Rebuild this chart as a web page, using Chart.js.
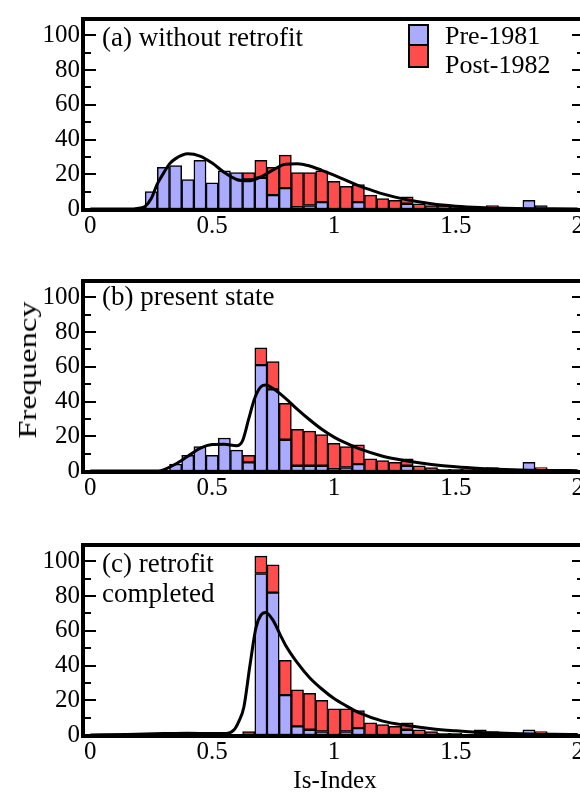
<!DOCTYPE html>
<html>
<head>
<meta charset="utf-8">
<script src="https://cdn.jsdelivr.net/npm/chart.js@4.4.1/dist/chart.umd.min.js"></script>
<style>
  html, body { margin: 0; padding: 0; background: #fff; overflow: hidden; width: 580px; height: 796px; }
  canvas { position: absolute; left: 0; }
  .lbl { position: absolute; font-family: 'Liberation Serif', 'Times New Roman', serif; font-size: 26px; line-height: 30px; color: #000; white-space: nowrap; }
  .sw { position: absolute; left: 408px; width: 17px; border: 2px solid #000; }
</style>
</head>
<body>
<canvas id="panelA" width="600" height="240" style="top:0px"></canvas>
<canvas id="panelB" width="600" height="240" style="top:262px"></canvas>
<canvas id="panelC" width="600" height="240" style="top:526px"></canvas>

<div class="lbl" style="left:102px;top:22px;font-size:27px">(a) without retrofit</div>
<div class="sw" style="top:24px;height:18px;background:rgb(170,170,255)"></div>
<div class="sw" style="top:44px;height:20px;background:rgb(255,77,77)"></div>
<div class="lbl" style="left:445px;top:21px">Pre-1981</div>
<div class="lbl" style="left:445px;top:50px">Post-1982</div>
<div class="lbl" style="left:102px;top:281px;font-size:27px">(b) present state</div>
<div class="lbl" style="left:102px;top:548px;font-size:27px">(c) retrofit<br>completed</div>
<div class="lbl" style="left:28px;top:370px;transform:translate(-50%,-50%) rotate(-90deg) scaleX(1.3);font-size:25px">Frequency</div>
<div class="lbl" style="left:335px;top:780px;transform:translate(-50%,-50%);font-size:25px">Is-Index</div>

<script>
const BLUE = 'rgb(170, 170, 255)';
const RED = 'rgb(255, 77, 77)';
const FONT = "'Liberation Serif', 'Times New Roman', serif";

// bin centres (Is-Index), width 0.05
const bins = [0.25, 0.30, 0.35, 0.40, 0.45, 0.50, 0.55, 0.60, 0.65, 0.70, 0.75, 0.80, 0.85, 0.90, 0.95, 1.00, 1.05,
  1.10, 1.15, 1.20, 1.25, 1.30, 1.35, 1.40, 1.45, 1.50, 1.55, 1.60, 1.65, 1.70, 1.75, 1.80, 1.85];

// (a) without retrofit
const preA  = [10, 24, 25, 17, 28, 15, 22, 21, 17, 18, 8, 12, 1, 2, 4, 0, 0, 4, 0, 0, 0, 3, 0, 0, 0, 0, 0, 0, 1, 0, 0, 5, 2];
const postA = [0, 0, 0, 0, 0, 0, 0, 0, 4, 10, 16, 19, 20, 19, 18, 16, 13, 10, 8, 6, 5, 4, 3, 2, 2, 1, 1, 1, 1, 0, 0, 0, 0];
// (b) present state
const preB  = [0, 0, 4, 9, 14, 9, 19, 12, 5, 61, 47, 18, 3, 3, 3, 1, 2, 4, 0, 0, 0, 3, 0, 0, 0, 0, 0, 0, 1, 0, 0, 5, 1];
const postB = [0, 0, 0, 0, 0, 0, 0, 0, 4, 10, 16, 21, 21, 20, 18, 15, 12, 11, 7, 6, 5, 4, 3, 2, 1, 1, 1, 1, 1, 0, 0, 0, 1];
// (c) retrofit completed
const preC  = [0, 0, 0, 0, 0, 0, 0, 0, 0, 93, 82, 23, 5, 3, 2, 0, 2, 4, 0, 0, 0, 3, 0, 0, 0, 0, 0, 1, 1, 0, 0, 3, 1];
const postC = [0, 0, 0, 0, 0, 0, 0, 0, 2, 10, 16, 20, 21, 21, 18, 15, 13, 10, 7, 6, 5, 4, 3, 2, 1, 1, 0, 2, 1, 0, 0, 0, 1];

// fitted distribution curves
const fitXA = [0, 0.15, 0.2, 0.225, 0.25, 0.275, 0.3, 0.325, 0.35, 0.4, 0.45, 0.5, 0.55, 0.6, 0.65, 0.7, 0.75, 0.8, 0.85,
  0.9, 0.95, 1.0, 1.05, 1.1, 1.15, 1.2, 1.3, 1.4, 1.5, 1.6, 1.7, 1.8, 1.9, 2.0];
const fitYA = [0, 0, 0.5, 1.5, 6, 14.5, 20.5, 26, 29, 31.8, 30.5, 26.5, 21, 17, 16.2, 18.5, 22.5, 25.8, 26.1,
  24.8, 22.3, 19.5, 16.5, 13.5, 11, 8.7, 5.3, 3, 1.6, 0.8, 0.4, 0.2, 0.1, 0];
const fitXB = [0, 0.28, 0.3, 0.35, 0.4, 0.45, 0.5, 0.55, 0.6, 0.625, 0.65, 0.675, 0.7, 0.72, 0.75, 0.8, 0.85, 0.9, 0.95,
  1.0, 1.05, 1.1, 1.2, 1.3, 1.4, 1.5, 1.6, 1.7, 1.8, 1.9, 2.0];
const fitYB = [0, 0, 0.6, 4, 8.5, 13, 15.2, 15.4, 14.5, 17.5, 30, 42, 48.5, 49.5, 47.5, 42, 35.5, 29.5, 24,
  19.5, 16, 13, 8.5, 5.8, 3.8, 2.4, 1.5, 0.9, 0.5, 0.3, 0.2];
const fitXC = [0, 0.15, 0.3, 0.4, 0.5, 0.56, 0.59, 0.61, 0.63, 0.655, 0.68, 0.7, 0.72, 0.75, 0.78, 0.8, 0.85, 0.9, 0.95,
  1.0, 1.05, 1.1, 1.2, 1.3, 1.4, 1.5, 1.6, 1.7, 1.8, 1.9, 2.0];
const fitYC = [0, 0.3, 0.8, 1, 0.8, 0.9, 3, 8, 16, 40, 62, 69, 70.6, 66, 57.5, 52, 41.5, 33, 26.5,
  21, 16.8, 13, 8, 5.5, 3.6, 2.4, 1.5, 1, 0.6, 0.4, 0.3];

const xTicks = [0, 0.5, 1, 1.5, 2];
const yTicks = [0, 20, 40, 60, 80, 100];
const yMinor = [10, 20, 30, 40, 50, 60, 70, 80, 90, 100];

// frame + inward ticks on left and right axes
const frameTicks = {
  id: 'frameTicks',
  afterDraw(chart) {
    const ctx = chart.ctx;
    const a = chart.chartArea;
    const y = chart.scales.y;
    const L = Math.round(a.left), R = Math.round(a.right);
    const T = Math.round(a.top), B = Math.round(a.bottom);
    ctx.save();
    ctx.fillStyle = '#000';
    yMinor.forEach(v => {
      const py = Math.round(y.getPixelForValue(v));
      const len = v % 20 === 0 ? 13 : 8;
      ctx.fillRect(L, py - 1, len, 2);
      ctx.fillRect(R - len, py - 1, len, 2);
    });
    ctx.fillRect(L - 2, T - 1, R - L + 3, 4);
    ctx.fillRect(L - 2, B - 1, R - L + 3, 4);
    ctx.fillRect(L - 2, T - 1, 4, B - T + 4);
    ctx.fillRect(R - 1, T - 1, 4, B - T + 4);
    ctx.restore();
  }
};

function pts(xs, ys) {
  return xs.map((x, i) => ({ x, y: ys[i] || null }));
}

function makePanel(id, pre, post, fitX, fitY) {
  const ctx = document.getElementById(id).getContext('2d');
  return new Chart(ctx, {
    type: 'bar',
    data: {
      datasets: [
        {
          label: 'Pre-1981',
          data: pts(bins, pre),
          backgroundColor: BLUE,
          borderColor: '#000',
          borderWidth: 1.5,
          borderSkipped: false,
          barPercentage: 1,
          categoryPercentage: 1,
          order: 1
        },
        {
          label: 'Post-1982',
          data: pts(bins, post),
          backgroundColor: RED,
          borderColor: '#000',
          borderWidth: 1.5,
          borderSkipped: false,
          barPercentage: 1,
          categoryPercentage: 1,
          order: 1
        },
        {
          type: 'line',
          label: 'fit',
          stack: 'fit',
          data: fitX.map((x, i) => ({ x, y: fitY[i] })),
          borderColor: '#000',
          borderWidth: 3,
          pointRadius: 0,
          fill: false,
          cubicInterpolationMode: 'monotone',
          order: 0
        }
      ]
    },
    options: {
      responsive: false,
      animation: false,
      layout: { padding: { top: 8, right: 15, left: 0, bottom: 0 } },
      plugins: { legend: { display: false }, tooltip: { enabled: false } },
      scales: {
        x: {
          type: 'linear',
          min: -0.03,
          max: 2.03,
          offset: false,
          stacked: true,
          afterBuildTicks: s => { s.ticks = xTicks.map(v => ({ value: v })); },
          afterFit: s => { s.height = 31; },
          grid: { display: false, drawTicks: false, offset: false },
          border: { display: false },
          ticks: { color: '#000', font: { family: FONT, size: 25 }, padding: 2, maxRotation: 0, callback: v => String(v) }
        },
        y: {
          min: 0,
          max: 110,
          stacked: true,
          afterBuildTicks: s => { s.ticks = yTicks.map(v => ({ value: v })); },
          afterFit: s => { s.width = 83; },
          grid: { display: false, drawTicks: false },
          border: { display: false },
          ticks: { color: '#000', font: { family: FONT, size: 25 }, padding: 3 }
        }
      }
    },
    plugins: [frameTicks]
  });
}

makePanel('panelA', preA, postA, fitXA, fitYA);
makePanel('panelB', preB, postB, fitXB, fitYB);
makePanel('panelC', preC, postC, fitXC, fitYC);
</script>
</body>
</html>
